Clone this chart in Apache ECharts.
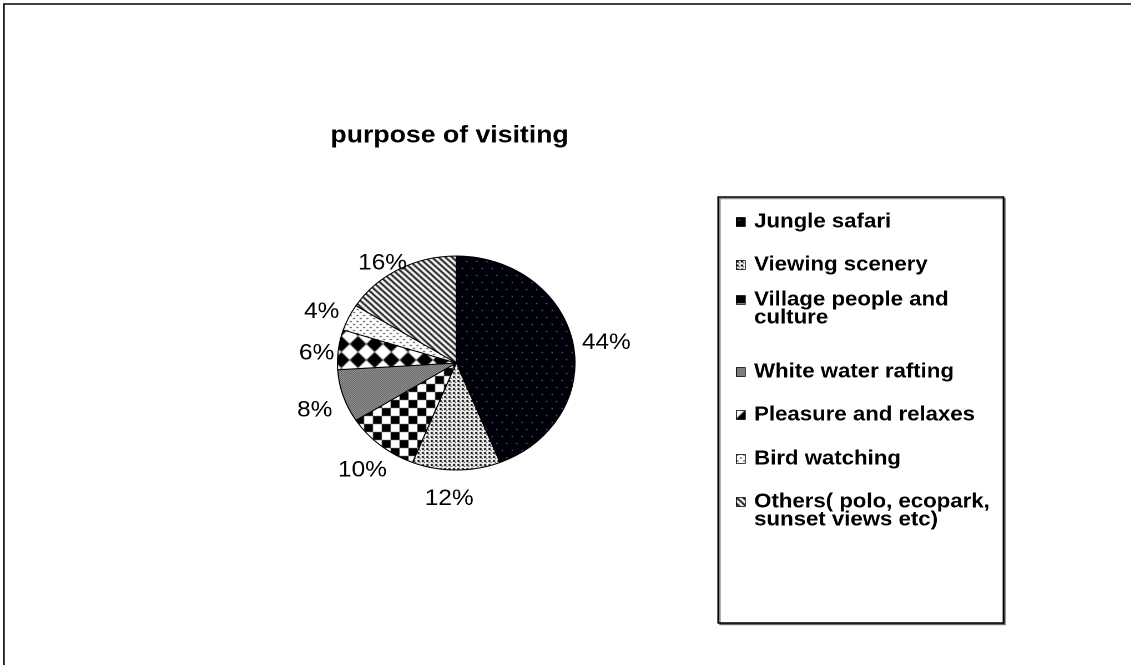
<!DOCTYPE html>
<html>
<head>
<meta charset="utf-8">
<script src="https://cdn.jsdelivr.net/npm/echarts@6/dist/echarts.min.js"></script>
<style>
  html, body { margin: 0; padding: 0; background: #fff; overflow: hidden; }
  /* the original picture is stretched sideways, so draw narrower and stretch */
  #main { width: 1019px; height: 665px; transform: scaleX(1.11); transform-origin: 0 0; }
</style>
</head>
<body>
<div id="main"></div>
<script>
  // data
  const categories = ['Jungle safari', 'Viewing scenery', 'Village people and culture',
    'White water rafting', 'Pleasure and relaxes', 'Bird watching',
    'Others( polo, ecopark, sunset views etc)'];
  const shares = [44, 12, 10, 8, 6, 4, 16];
  // how the legend wraps the long names
  const legendLines = ['Jungle safari', 'Viewing scenery', 'Village people and\nculture',
    'White water rafting', 'Pleasure and relaxes', 'Bird watching',
    'Others( polo, ecopark,\nsunset views etc)'];
  const patternKinds = ['navyDots', 'confetti', 'checker', 'grey', 'diamond', 'lightDots', 'stripes'];
  // layout: y of the first text line of each legend entry
  const legendRows = [221, 264, 299, 371, 414, 458, 501];
  // layout: small nudges of the percent labels, like excel placed them
  const labelNudge = [[4, 5], [-7, 2], [1, 4], [0, 6], [8, 7], [0, 6], [-2, 18]];

  // excel-like fill patterns
  function makePattern(kind) {
    const c = document.createElement('canvas');
    let ctx;
    if (kind === 'navyDots') {
      c.width = 9; c.height = 14; ctx = c.getContext('2d');
      ctx.fillStyle = '#000008'; ctx.fillRect(0, 0, 9, 14);
      ctx.fillStyle = '#8a8aff';
      ctx.fillRect(2, 2, 1, 1); ctx.fillRect(6, 9, 1, 1);
    } else if (kind === 'confetti') {
      c.width = 4; c.height = 4; ctx = c.getContext('2d');
      ctx.fillStyle = '#fff'; ctx.fillRect(0, 0, 4, 4);
      ctx.fillStyle = '#000';
      ctx.fillRect(0, 0, 2, 2); ctx.fillRect(2, 2, 1, 1);
    } else if (kind === 'checker') {
      c.width = 16; c.height = 16; ctx = c.getContext('2d');
      ctx.fillStyle = '#fff'; ctx.fillRect(0, 0, 16, 16);
      ctx.fillStyle = '#000';
      ctx.fillRect(0, 0, 8, 8); ctx.fillRect(8, 8, 8, 8);
    } else if (kind === 'grey') {
      c.width = 2; c.height = 2; ctx = c.getContext('2d');
      ctx.fillStyle = '#c8c8c8'; ctx.fillRect(0, 0, 2, 2);
      ctx.fillStyle = '#333';
      ctx.fillRect(0, 0, 1, 1); ctx.fillRect(1, 1, 1, 1);
    } else if (kind === 'diamond') {
      c.width = 15; c.height = 16; ctx = c.getContext('2d');
      ctx.fillStyle = '#fff'; ctx.fillRect(0, 0, 15, 16);
      ctx.fillStyle = '#000';
      ctx.beginPath();
      ctx.moveTo(7.5, 0); ctx.lineTo(15, 8); ctx.lineTo(7.5, 16); ctx.lineTo(0, 8);
      ctx.closePath(); ctx.fill();
    } else if (kind === 'lightDots') {
      c.width = 6; c.height = 6; ctx = c.getContext('2d');
      ctx.fillStyle = '#fff'; ctx.fillRect(0, 0, 6, 6);
      ctx.fillStyle = '#333';
      ctx.fillRect(0, 0, 2, 1); ctx.fillRect(3, 3, 2, 1);
    } else {
      c.width = 6; c.height = 6; ctx = c.getContext('2d');
      ctx.fillStyle = '#fff'; ctx.fillRect(0, 0, 6, 6);
      ctx.strokeStyle = '#000'; ctx.lineWidth = 1.6;
      ctx.beginPath();
      ctx.moveTo(-1, -1); ctx.lineTo(7, 7);
      ctx.moveTo(-4, 2); ctx.lineTo(4, 10);
      ctx.moveTo(2, -4); ctx.lineTo(10, 4);
      ctx.stroke();
    }
    return { image: c, repeat: 'repeat' };
  }

  const lineH = 18;
  // one legend block per entry so each row sits where the original has it;
  // two-line names get a blank line on top so the icon lines up with line one
  const legends = categories.map((name, i) => {
    const twoLines = legendLines[i].indexOf('\n') >= 0;
    return {
      orient: 'vertical',
      left: 663,
      top: legendRows[i] - (twoLines ? lineH * 1.5 : lineH / 2),
      padding: 0,
      itemWidth: 8,
      itemHeight: 9,
      icon: 'rect',
      selectedMode: false,
      data: [name],
      formatter: function (n) {
        const t = legendLines[categories.indexOf(n)];
        return t.indexOf('\n') >= 0 ? ' \n' + t : t;
      },
      itemStyle: { borderColor: '#000', borderWidth: 0.8 },
      textStyle: {
        fontFamily: 'Liberation Sans', fontSize: 20, fontWeight: 'bold',
        color: '#000', lineHeight: lineH, padding: [0, 0, 0, 3]
      }
    };
  });

  let myChart = echarts.init(document.getElementById('main'), null, { devicePixelRatio: 2 });
  myChart.setOption({
    backgroundColor: '#fff',
    animation: false,
    title: {
      text: 'purpose of visiting',
      left: 405,
      top: 124,
      padding: 0,
      textAlign: 'center',
      textStyle: { fontFamily: 'Liberation Sans', fontSize: 24, fontWeight: 'bold', color: '#000' }
    },
    graphic: [
      {
        type: 'rect', silent: true, z: -10,
        shape: { x: 3.5, y: 4, width: 1300, height: 800 },
        style: { fill: '#fff', stroke: '#000', lineWidth: 1.5 }
      },
      {
        type: 'rect', silent: true, z: -5,
        shape: { x: 647, y: 197, width: 257, height: 426 },
        style: {
          fill: '#fff', stroke: '#000', lineWidth: 1.5,
          shadowColor: 'rgba(0,0,0,0.45)', shadowOffsetX: 1.5, shadowOffsetY: 1.5
        }
      }
    ],
    legend: legends,
    series: [
      {
        type: 'pie',
        center: [411, 363],
        radius: 107,
        startAngle: 90,
        clockwise: true,
        data: categories.map((name, i) => ({
          name: name,
          value: shares[i],
          itemStyle: { color: makePattern(patternKinds[i]) }
        })),
        itemStyle: { borderColor: '#000', borderWidth: 1 },
        label: { show: false },
        labelLine: { show: false },
        emphasis: { disabled: true }
      },
      {
        // invisible ring that carries the percentage labels
        type: 'pie',
        center: [411, 363],
        radius: [121, 141],
        startAngle: 90,
        clockwise: true,
        silent: true,
        data: categories.map((name, i) => ({
          name: name,
          value: shares[i],
          label: { offset: [labelNudge[i][0] / 1.11, labelNudge[i][1]] }
        })),
        itemStyle: { color: 'rgba(0,0,0,0)', borderWidth: 0 },
        label: {
          show: true,
          position: 'inside',
          formatter: '{c}%',
          fontFamily: 'Liberation Sans',
          fontSize: 22,
          color: '#000'
        },
        labelLine: { show: false },
        emphasis: { disabled: true }
      }
    ]
  });
  window.onresize = myChart.resize;
</script>
</body>
</html>
